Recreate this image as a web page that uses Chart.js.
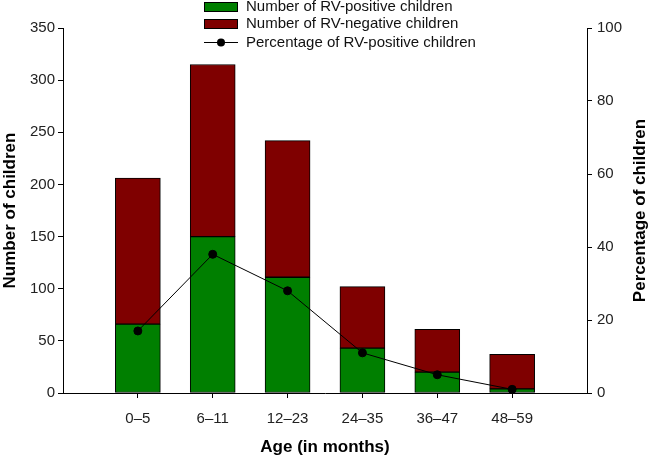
<!DOCTYPE html>
<html>
<head>
<meta charset="utf-8">
<script src="https://cdn.jsdelivr.net/npm/chart.js@4"></script>
<style>
  html, body { margin: 0; padding: 0; background: #fff; }
  #wrap { width: 652px; height: 456px; position: relative; }
</style>
</head>
<body>
<div id="wrap"><canvas id="chart"></canvas></div>
<script>
// Age groups (months)
const ageGroups = ['0–5', '6–11', '12–23', '24–35', '36–47', '48–59'];
// Counts
const rvPositive = [66, 150, 111, 43, 20, 4];
const rvNegative = [140, 165, 131, 59, 41, 33];
// Percentage
const rvPositivePct = [17, 38, 28, 11, 5, 1];

const FONT = "'Liberation Sans', Arial, sans-serif";
const GREEN = '#007f00';
const DARK_RED = '#7f0000';

// blank slots on both ends so the categories sit at 1..6 of 0..7
const labels = ['', ...ageGroups, ''];
const pad = arr => [null, ...arr, null];

// Legend stacked in a column, drawn on the canvas
const columnLegend = {
  id: 'columnLegend',
  afterDraw(chart) {
    const ctx = chart.ctx;
    const boxX = 204, boxW = 34, boxH = 10, textX = 246;
    const rows = [7, 24, 42.5];
    ctx.save();
    ctx.font = '15px ' + FONT;
    ctx.textBaseline = 'middle';
    chart.data.datasets.forEach((ds, i) => {
      const y = rows[i];
      if (ds.type === 'line') {
        ctx.strokeStyle = ds.borderColor;
        ctx.lineWidth = 1;
        ctx.beginPath();
        ctx.moveTo(boxX, y);
        ctx.lineTo(boxX + boxW, y);
        ctx.stroke();
        ctx.fillStyle = ds.pointBackgroundColor;
        ctx.beginPath();
        ctx.arc(boxX + boxW / 2, y, 4, 0, Math.PI * 2);
        ctx.fill();
      } else {
        ctx.fillStyle = ds.backgroundColor;
        ctx.fillRect(boxX, y - boxH / 2, boxW, boxH);
        ctx.strokeStyle = '#000';
        ctx.lineWidth = 1;
        ctx.strokeRect(boxX + 0.5, y - boxH / 2 + 0.5, boxW - 1, boxH - 1);
      }
      ctx.fillStyle = '#111';
      ctx.fillText(ds.label, textX, y);
    });
    ctx.restore();
  }
};

// Right axis title reads bottom-to-top like the left one
const rightTitle = {
  id: 'rightTitle',
  afterDraw(chart) {
    const ctx = chart.ctx;
    const area = chart.chartArea;
    ctx.save();
    ctx.font = 'bold 17px ' + FONT;
    ctx.fillStyle = '#000';
    ctx.textAlign = 'center';
    ctx.textBaseline = 'middle';
    ctx.translate(640, (area.top + area.bottom) / 2);
    ctx.rotate(-Math.PI / 2);
    ctx.fillText('Percentage of children', 0, 0);
    ctx.restore();
  }
};

const edgeTick = ctx => (ctx.index === 0 || ctx.index === labels.length - 1) ? 'rgba(0,0,0,0)' : '#000';

new Chart(document.getElementById('chart'), {
  data: {
    labels: labels,
    datasets: [
      {
        type: 'bar',
        label: 'Number of RV-positive children',
        data: pad(rvPositive),
        backgroundColor: GREEN,
        borderColor: '#000',
        borderWidth: 1,
        borderSkipped: false,
        barThickness: 45,
        yAxisID: 'y',
        order: 1
      },
      {
        type: 'bar',
        label: 'Number of RV-negative children',
        data: pad(rvNegative),
        backgroundColor: DARK_RED,
        borderColor: '#000',
        borderWidth: 1,
        borderSkipped: false,
        barThickness: 45,
        yAxisID: 'y',
        order: 1
      },
      {
        type: 'line',
        label: 'Percentage of RV-positive children',
        data: pad(rvPositivePct),
        borderColor: '#000',
        borderWidth: 1,
        pointBackgroundColor: '#000',
        pointBorderColor: '#000',
        pointRadius: 4,
        tension: 0,
        yAxisID: 'y1',
        order: 0
      }
    ]
  },
  options: {
    responsive: true,
    maintainAspectRatio: false,
    animation: false,
    layout: { padding: { top: 28, right: 0, bottom: 0, left: 0 } },
    plugins: {
      legend: { display: false },
      tooltip: { enabled: false }
    },
    scales: {
      x: {
        stacked: true,
        offset: false,
        grid: { offset: false, drawOnChartArea: false, drawTicks: true, tickLength: 5, tickColor: edgeTick },
        border: { color: '#000', width: 1 },
        ticks: { color: '#222', font: { family: FONT, size: 15 }, padding: 12, maxRotation: 0, autoSkip: false },
        title: { display: true, text: 'Age (in months)', color: '#000', font: { family: FONT, size: 17, weight: 'bold' }, padding: { bottom: -2 } },
        afterFit: s => { s.height = 63; }
      },
      y: {
        stacked: true,
        position: 'left',
        min: 0,
        max: 350,
        grid: { drawOnChartArea: false, tickLength: 5, tickColor: '#000' },
        border: { color: '#000', width: 1 },
        ticks: { stepSize: 50, color: '#222', font: { family: FONT, size: 15 }, padding: 3 },
        title: { display: true, text: 'Number of children', color: '#000', font: { family: FONT, size: 17, weight: 'bold' }, padding: 0 },
        afterFit: s => { s.width = 63; }
      },
      y1: {
        position: 'right',
        min: 0,
        max: 100,
        grid: { drawOnChartArea: false, tickLength: 5, tickColor: '#000' },
        border: { color: '#000', width: 1 },
        ticks: { stepSize: 20, color: '#222', font: { family: FONT, size: 15 }, padding: 5 },
        afterFit: s => { s.width = 65; }
      }
    }
  },
  plugins: [columnLegend, rightTitle]
});
</script>
</body>
</html>
